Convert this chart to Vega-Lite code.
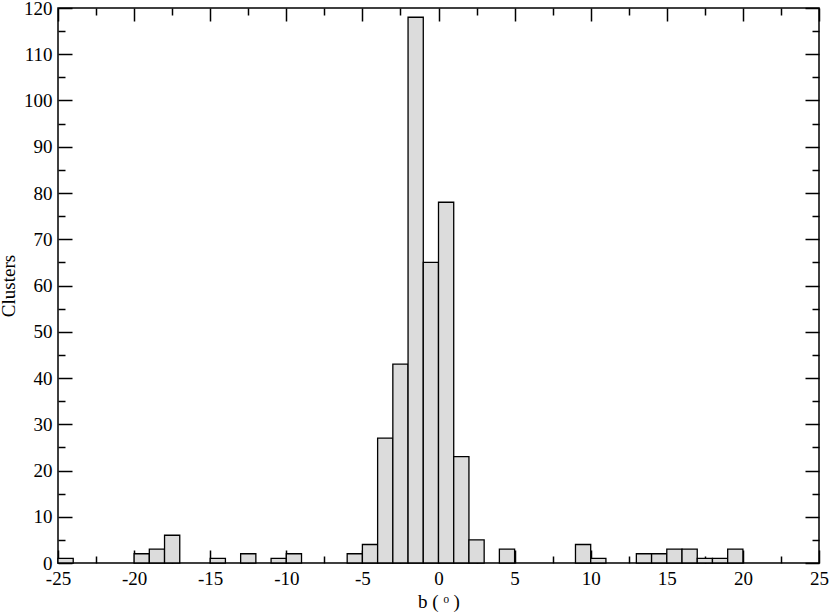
{
  "$schema": "https://vega.github.io/schema/vega-lite/v6.json",
  "width": 761,
  "height": 555,
  "autosize": {"type": "none"},
  "padding": {"left": 58, "top": 8, "right": 11, "bottom": 51},
  "background": "white",
  "config": {
    "view": {"stroke": "black", "strokeWidth": 1.5},
    "axis": {
      "grid": false,
      "domain": false,
      "labelFlush": false,
      "labelOverlap": false,
      "labelFont": "Liberation Serif",
      "titleFont": "Liberation Serif",
      "labelFontSize": 19,
      "titleFontSize": 19,
      "titleFontWeight": "normal",
      "labelColor": "black",
      "titleColor": "black",
      "tickColor": "black",
      "tickWidth": 1.5
    }
  },
  "data": {
    "values": [
      {"b0": -25, "b1": -24, "count": 1},
      {"b0": -20, "b1": -19, "count": 2},
      {"b0": -19, "b1": -18, "count": 3},
      {"b0": -18, "b1": -17, "count": 6},
      {"b0": -15, "b1": -14, "count": 1},
      {"b0": -13, "b1": -12, "count": 2},
      {"b0": -11, "b1": -10, "count": 1},
      {"b0": -10, "b1": -9, "count": 2},
      {"b0": -6, "b1": -5, "count": 2},
      {"b0": -5, "b1": -4, "count": 4},
      {"b0": -4, "b1": -3, "count": 27},
      {"b0": -3, "b1": -2, "count": 43},
      {"b0": -2, "b1": -1, "count": 118},
      {"b0": -1, "b1": 0, "count": 65},
      {"b0": 0, "b1": 1, "count": 78},
      {"b0": 1, "b1": 2, "count": 23},
      {"b0": 2, "b1": 3, "count": 5},
      {"b0": 4, "b1": 5, "count": 3},
      {"b0": 9, "b1": 10, "count": 4},
      {"b0": 10, "b1": 11, "count": 1},
      {"b0": 13, "b1": 14, "count": 2},
      {"b0": 14, "b1": 15, "count": 2},
      {"b0": 15, "b1": 16, "count": 3},
      {"b0": 16, "b1": 17, "count": 3},
      {"b0": 17, "b1": 18, "count": 1},
      {"b0": 18, "b1": 19, "count": 1},
      {"b0": 19, "b1": 20, "count": 3}
    ]
  },
  "layer": [
    {
      "mark": {"type": "bar", "fill": "#dcdcdc", "stroke": "black", "strokeWidth": 1.3},
      "encoding": {
        "x": {
          "field": "b0", "type": "quantitative",
          "scale": {"domain": [-25, 25], "nice": false, "zero": false},
          "axis": {
            "orient": "bottom",
            "values": [-25, -20, -15, -10, -5, 0, 5, 10, 15, 20, 25],
            "tickSize": -13,
            "labelPadding": 19,
            "labelExpr": "'' + datum.value",
            "title": "b ( ᵒ )",
            "titlePadding": 4
          }
        },
        "x2": {"field": "b1"},
        "y": {
          "field": "count", "type": "quantitative",
          "scale": {"domain": [0, 120], "nice": false},
          "axis": {
            "orient": "left",
            "values": [0, 10, 20, 30, 40, 50, 60, 70, 80, 90, 100, 110, 120],
            "tickSize": -14,
            "labelPadding": 20,
            "title": "Clusters",
            "titlePadding": 5
          }
        },
        "y2": {"datum": 0}
      }
    },
    {
      "mark": {"type": "bar", "opacity": 0},
      "encoding": {
        "x": {
          "field": "b0", "type": "quantitative",
          "axis": {"orient": "top", "values": [-25, -20, -15, -10, -5, 0, 5, 10, 15, 20, 25], "tickSize": -13, "labels": false, "title": null}
        },
        "x2": {"field": "b1"},
        "y": {
          "field": "count", "type": "quantitative",
          "axis": {"orient": "right", "values": [0, 10, 20, 30, 40, 50, 60, 70, 80, 90, 100, 110, 120], "tickSize": -14, "labels": false, "title": null}
        },
        "y2": {"datum": 0}
      }
    },
    {
      "mark": {"type": "bar", "opacity": 0},
      "encoding": {
        "x": {
          "field": "b0", "type": "quantitative",
          "axis": {"orient": "bottom", "values": [-22.5, -17.5, -12.5, -7.5, -2.5, 2.5, 7.5, 12.5, 17.5, 22.5], "tickSize": -7, "labels": false, "title": null}
        },
        "x2": {"field": "b1"},
        "y": {
          "field": "count", "type": "quantitative",
          "axis": {"orient": "left", "values": [5, 15, 25, 35, 45, 55, 65, 75, 85, 95, 105, 115], "tickSize": -7, "labels": false, "title": null}
        },
        "y2": {"datum": 0}
      }
    },
    {
      "mark": {"type": "bar", "opacity": 0},
      "encoding": {
        "x": {
          "field": "b0", "type": "quantitative",
          "axis": {"orient": "top", "values": [-22.5, -17.5, -12.5, -7.5, -2.5, 2.5, 7.5, 12.5, 17.5, 22.5], "tickSize": -7, "labels": false, "title": null}
        },
        "x2": {"field": "b1"},
        "y": {
          "field": "count", "type": "quantitative",
          "axis": {"orient": "right", "values": [5, 15, 25, 35, 45, 55, 65, 75, 85, 95, 105, 115], "tickSize": -7, "labels": false, "title": null}
        },
        "y2": {"datum": 0}
      }
    }
  ],
  "resolve": {"axis": {"x": "independent", "y": "independent"}}
}
